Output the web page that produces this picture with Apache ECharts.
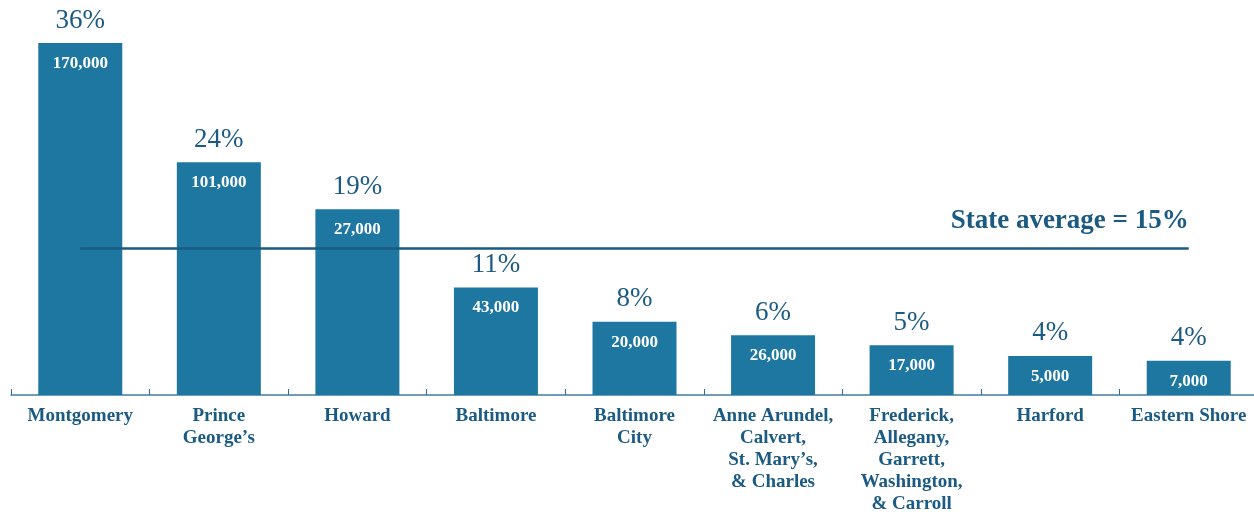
<!DOCTYPE html>
<html>
<head>
<meta charset="utf-8">
<script src="https://cdn.jsdelivr.net/npm/echarts@6/dist/echarts.min.js"></script>
<style>
  html, body { margin: 0; padding: 0; background: #fff; }
  #chart { width: 1254px; height: 512px; }
</style>
</head>
<body>
<div id="chart"></div>
<script>
// regions along the x axis
var regions = ['Montgomery', 'Prince\nGeorge\u2019s', 'Howard', 'Baltimore', 'Baltimore\nCity',
  'Anne Arundel,\nCalvert,\nSt. Mary\u2019s,\n& Charles',
  'Frederick,\nAllegany,\nGarrett,\nWashington,\n& Carroll',
  'Harford', 'Eastern Shore'];
// share in percent (bar height), label shown above each bar
var shares = [36, 23.8, 19, 11, 7.5, 6.1, 5.1, 4.0, 3.5];
var shareLabels = ['36%', '24%', '19%', '11%', '8%', '6%', '5%', '4%', '4%'];
// counts printed inside the bars
var counts = ['170,000', '101,000', '27,000', '43,000', '20,000', '26,000', '17,000', '5,000', '7,000'];
var stateAverage = 15;

var barColor = '#1e77a0';
var textColor = '#1b5a82';
var serif = '"Liberation Serif", "DejaVu Serif", serif';

var chart = echarts.init(document.getElementById('chart'));

var barData = shares.map(function (v, i) {
  return { value: v, pct: shareLabels[i], count: counts[i] };
});

chart.setOption({
  animation: false,
  grid: { left: 11, right: -4, top: 4, bottom: 117, outerBoundsMode: 'none', containLabel: false },
  xAxis: {
    type: 'category',
    data: regions,
    axisLine: { lineStyle: { color: '#3f7ea6', width: 1.5 } },
    axisTick: { show: true, inside: true, length: 6, lineStyle: { color: '#2f6e96', width: 1 } },
    axisLabel: {
      interval: 0,
      margin: 10,
      color: textColor,
      fontFamily: serif,
      fontWeight: 'bold',
      fontSize: 19,
      lineHeight: 22
    }
  },
  yAxis: {
    type: 'value',
    min: 0,
    max: 40,
    show: false,
    splitLine: { show: false }
  },
  series: [
    {
      type: 'bar',
      data: barData,
      barWidth: 84,
      itemStyle: { color: barColor },
      label: {
        show: true,
        position: 'top',
        distance: 9,
        formatter: function (p) { return p.data.pct; },
        color: textColor,
        fontFamily: serif,
        fontSize: 27
      },
      markLine: {
        silent: true,
        symbol: 'none',
        lineStyle: { color: '#1b5a82', width: 2.5, type: 'solid' },
        label: {
          show: true,
          position: 'insideEndTop',
          distance: [0, 14],
          formatter: 'State average = ' + stateAverage + '%',
          color: textColor,
          fontFamily: serif,
          fontWeight: 'bold',
          fontSize: 27
        },
        data: [[{ coord: [0, stateAverage] }, { coord: [regions.length - 1, stateAverage] }]]
      },
      z: 2
    },
    {
      // white counts inside the bars
      type: 'bar',
      data: barData,
      barWidth: 84,
      barGap: '-100%',
      itemStyle: { color: 'transparent' },
      label: {
        show: true,
        position: 'insideTop',
        distance: 12,
        formatter: function (p) { return p.data.count; },
        color: '#ffffff',
        fontFamily: serif,
        fontWeight: 'bold',
        fontSize: 17
      },
      z: 3
    }
  ]
});
</script>
</body>
</html>
